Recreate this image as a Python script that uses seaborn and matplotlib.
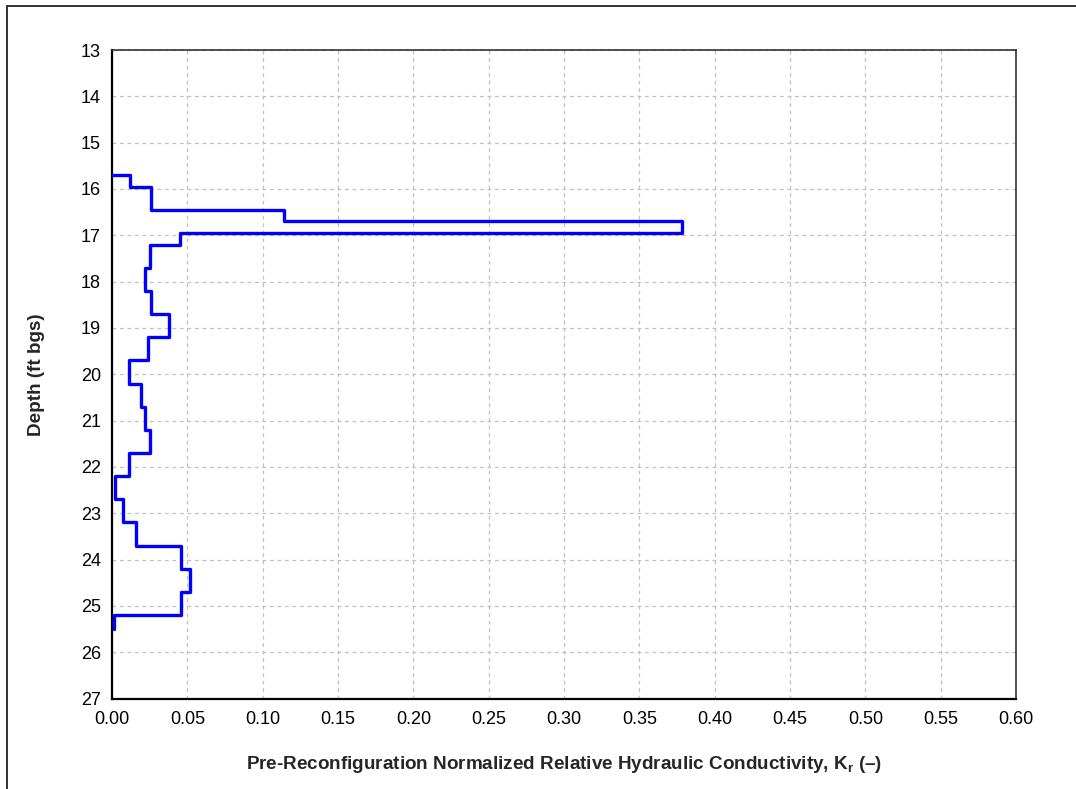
import numpy as np
import pandas as pd
import matplotlib
matplotlib.use("Agg")
import matplotlib.pyplot as plt
from matplotlib.patches import Rectangle
from matplotlib.ticker import MultipleLocator, FormatStrFormatter
import seaborn as sns

# Interval boundaries (ft bgs) and Kr value for each interval
depth_bounds = [15.7, 15.95, 16.45, 16.7, 16.95, 17.2, 17.7, 18.2, 18.7, 19.2,
                19.7, 20.2, 20.7, 21.2, 21.7, 22.2, 22.7, 23.2, 23.7, 24.2,
                24.7, 25.2, 25.5]
kr_values = [0.012, 0.026, 0.114, 0.378, 0.045, 0.025, 0.022, 0.026, 0.038,
             0.024, 0.011, 0.019, 0.022, 0.025, 0.011, 0.002, 0.007, 0.016,
             0.046, 0.052, 0.046, 0.001]
x_ticks = [round(0.05 * i, 2) for i in range(13)]
y_ticks = list(range(13, 28))

# Build the stepped profile path
px, py = [0.0], [depth_bounds[0]]
for i, v in enumerate(kr_values):
    px += [v, v]
    py += [depth_bounds[i], depth_bounds[i + 1]]
profile = pd.DataFrame({"Kr": px, "Depth": py, "order": range(len(px))})

sns.set_style("white")
plt.rcParams["font.family"] = ["Liberation Sans", "DejaVu Sans"]
plt.rcParams["mathtext.fontset"] = "custom"
plt.rcParams["mathtext.rm"] = "Liberation Sans:bold"
plt.rcParams["mathtext.it"] = "Liberation Sans:bold"
plt.rcParams["mathtext.bf"] = "Liberation Sans:bold"

fig = plt.figure(figsize=(10.76, 7.89), dpi=100)
ax = fig.add_axes([112 / 1076, 1 - 698.5 / 789, (1016 - 112) / 1076, (698.5 - 50) / 789])

sns.lineplot(data=profile, x="Kr", y="Depth", sort=False, estimator=None,
             color="#0000ff", linewidth=2.4, ax=ax, zorder=3)

ax.set_xlim(0, 0.60)
ax.set_ylim(27, 13)
ax.set_xticks(x_ticks)
ax.set_yticks(y_ticks)
ax.xaxis.set_major_formatter(FormatStrFormatter("%.2f"))
ax.xaxis.set_minor_locator(MultipleLocator(0.01))

ax.grid(True, which="major", color="#c0c0c0", linestyle=(0, (3, 3)), linewidth=0.9)
ax.set_axisbelow(True)

for side in ("left", "bottom"):
    ax.spines[side].set_color("black")
    ax.spines[side].set_linewidth(1.6)
for side in ("top", "right"):
    ax.spines[side].set_color("#333333")
    ax.spines[side].set_linewidth(1.2)

ax.tick_params(axis="both", which="major", direction="out", length=5, width=1.2,
               color="black", labelsize=13, labelcolor="black", pad=3)
ax.tick_params(axis="x", which="minor", direction="out", length=3, width=1.0,
               color="black")
ax.tick_params(axis="x", which="major", pad=4)
ax.tick_params(axis="y", which="major", pad=3)

ax.set_xlabel("Pre-Reconfiguration Normalized Relative Hydraulic Conductivity, K$_{\\mathrm{r}}$ (\u2013)",
              fontsize=13.6, fontweight="bold", labelpad=19)
ax.set_ylabel("Depth (ft bgs)", fontsize=13.6, fontweight="bold", labelpad=26)

# Outer frame around the figure
fig.patches.append(Rectangle((7 / 1076, -0.1), 1.2, 1 - 6 / 789 + 0.1,
                             transform=fig.transFigure, fill=False,
                             edgecolor="#222222", linewidth=1.3))

fig.savefig("out.png", dpi=100)
